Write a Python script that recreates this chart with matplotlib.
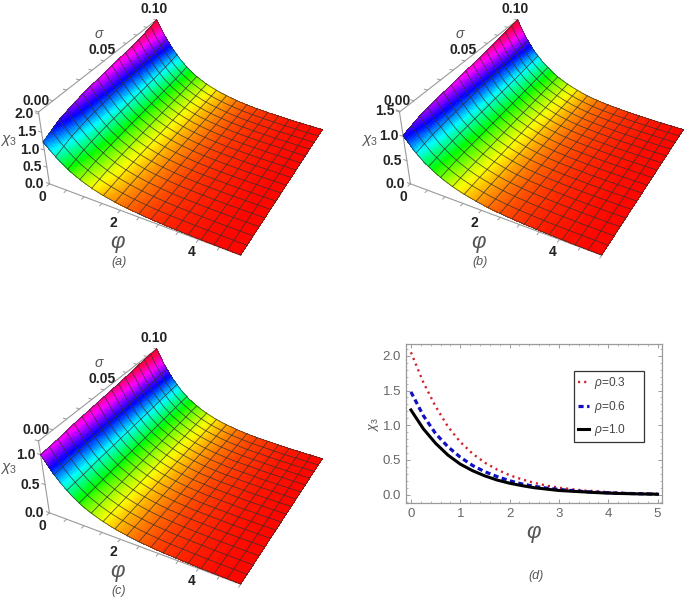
import numpy as np
import matplotlib
matplotlib.use("Agg")
import matplotlib.pyplot as plt
from matplotlib.ticker import MultipleLocator
from matplotlib.transforms import offset_copy

plt.rcParams["font.family"] = ["Liberation Sans", "DejaVu Sans"]
plt.rcParams["mathtext.fontset"] = "custom"
plt.rcParams["mathtext.it"] = "Liberation Sans:italic"
plt.rcParams["mathtext.rm"] = "Liberation Sans"

W, H = 685, 599

# one value every 0.25 in phi
phi = [0, 0.25, 0.5, 0.75, 1, 1.25, 1.5, 1.75, 2, 2.25, 2.5, 2.75, 3, 3.25, 3.5, 3.75, 4, 4.25, 4.5, 4.75, 5]
chi_rho03 = [2.05, 1.62, 1.27, 0.98, 0.76, 0.59, 0.46, 0.36, 0.28, 0.22, 0.17, 0.13, 0.10, 0.08, 0.06, 0.05, 0.035, 0.028, 0.02, 0.016, 0.012]
chi_rho06 = [1.48, 1.14, 0.88, 0.69, 0.54, 0.42, 0.33, 0.26, 0.20, 0.155, 0.12, 0.095, 0.075, 0.06, 0.045, 0.035, 0.028, 0.02, 0.016, 0.012, 0.008]
chi_rho10 = [1.22, 0.95, 0.74, 0.57, 0.44, 0.345, 0.27, 0.21, 0.165, 0.13, 0.10, 0.08, 0.06, 0.05, 0.04, 0.03, 0.022, 0.017, 0.013, 0.009, 0.006]

sigma = [0, 0.0125, 0.025, 0.0375, 0.05, 0.0625, 0.075, 0.0875, 0.1]
share_a = [0.60, 0.71, 0.77, 0.81, 0.84, 0.87, 0.90, 0.94, 1.0]
share_b = [0.69, 0.76, 0.80, 0.83, 0.86, 0.89, 0.92, 0.96, 1.0]
share_c = [0.82, 0.84, 0.87, 0.89, 0.91, 0.93, 0.955, 0.98, 1.0]

ticks_a = [0.0, 0.5, 1.0, 1.5, 2.0]
ticks_b = [0.0, 0.5, 1.0, 1.5]
ticks_c = [0.0, 0.5, 1.0]

GRAY = "#9a9a9a"
TEXT = "#555555"


def px_rect(left, top, width, height):
    return [left / W, 1 - (top + height) / H, width / W, height / H]


def surface_panel(fig, dx, dy, chi, share, zticks, caption):
    ax = fig.add_axes(px_rect(-12.4 + dx, -72.8 + dy, 400, 400), projection="3d", computed_zorder=False)
    ax.set_axis_off()
    ax.set_proj_type("persp", focal_length=0.3206)
    ax.view_init(elev=34.61, azim=-62.09)
    ax.set_box_aspect((1, 1.0314, 0.411), zoom=0.7472)
    top = max(chi)
    ax.set_xlim(0, 5)
    ax.set_ylim(0, 0.1)
    ax.set_zlim(0, top)

    # finer grid only so the colours run smoothly inside each mesh cell
    fine_x = np.linspace(0, 5, 161)
    fine_y = np.linspace(0, 0.1, 65)
    prof = np.interp(fine_x, phi, chi)
    sh = np.interp(fine_y, sigma, share)
    X, Y = np.meshgrid(fine_x, fine_y)
    Z = np.outer(sh, prof)
    cols = plt.cm.hsv(np.clip(Z / top, 0, 0.97))
    ax.plot_surface(X, Y, Z, facecolors=cols, rstride=1, cstride=1, shade=False,
                    linewidth=0, antialiased=False, zorder=2)

    # Mathematica style mesh, 15 lines each way
    for xm in np.linspace(0, 5, 17):
        ax.plot(np.full_like(fine_y, xm), fine_y, sh * np.interp(xm, phi, chi),
                color="#303030", lw=0.6, alpha=0.8, zorder=3)
    for ym in np.linspace(0, 0.1, 17):
        ax.plot(fine_x, np.full_like(fine_x, ym), prof * np.interp(ym, sigma, share),
                color="#303030", lw=0.6, alpha=0.8, zorder=3)

    # box edges that stay visible
    ax.plot([0, 5], [0, 0], [0, 0], color=GRAY, lw=0.8, zorder=1)
    ax.plot([0, 0], [0, 0], [0, top], color=GRAY, lw=0.8, zorder=1)
    ax.plot([0, 0], [0, 0.1], [top, top], color=GRAY, lw=0.8, zorder=1)

    # small ticks along the three edges
    for x in np.arange(0, 5.01, 0.5):
        ax.plot([x, x], [0, -0.0018], [0, 0], color=GRAY, lw=0.7, zorder=1)
    for s in np.arange(0, 0.1001, 0.01):
        ax.plot([0, -0.09], [s, s], [top, top], color=GRAY, lw=0.7, zorder=1)
    for z in zticks:
        ax.plot([0, -0.09], [0, 0], [z, z], color=GRAY, lw=0.7, zorder=1)

    def shifted(x, y):
        return offset_copy(ax.transData, fig=fig, x=x, y=y, units="dots")

    bold = dict(fontsize=10, fontweight="bold", color="#222222")
    for z in zticks:
        ax.text(0, 0, z, f"{z:.1f}", ha="right", va="center", transform=shifted(-5, 0), **bold)
    for x, lab in zip([0, 2, 4], ["0", "2", "4"]):
        ax.text(x, 0, 0, lab, ha="center", va="center", transform=shifted(-7, -13), **bold)
    for s, lab in zip([0, 0.05, 0.1], ["0.00", "0.05", "0.10"]):
        ax.text(0, s, top, lab, ha="center", va="center", transform=shifted(-2, 11), **bold)

    ax.text(2.5, 0, 0, r"$\varphi$", fontsize=16, color=TEXT, ha="center", va="center", transform=shifted(-21, -27))
    ax.text(0, 0.05, top, r"$\sigma$", fontsize=10, color=TEXT, ha="center", va="center", transform=shifted(-5, 27))
    fig.text((0 + dx) / W, 1 - (140 + dy) / H, r"$\chi_3$", fontsize=11, color=TEXT, ha="left", va="center")
    fig.text((119 + dx) / W, 1 - (262 + dy) / H, caption, fontsize=9, style="italic", color=TEXT, ha="center", va="center")


fig = plt.figure(figsize=(W / 100, H / 100), dpi=100)
surface_panel(fig, 0, 0, chi_rho03, share_a, ticks_a, "(a)")
surface_panel(fig, 361, 0, chi_rho06, share_b, ticks_b, "(b)")
surface_panel(fig, 0, 329, chi_rho10, share_c, ticks_c, "(c)")

ax = fig.add_axes(px_rect(406, 344, 256, 159))
ax.plot(phi, chi_rho03, color="#d0202a", ls=(0, (0.9, 1.7)), lw=1.7, label=r"$\rho$=0.3")
ax.plot(phi, chi_rho06, color="#1010c0", ls=(0, (1.6, 1.1)), lw=2.3, label=r"$\rho$=0.6")
ax.plot(phi, chi_rho10, color="black", lw=2.2, label=r"$\rho$=1.0")
ax.set_xlim(-0.1, 5.09)
ax.set_ylim(-0.12, 2.17)
ax.xaxis.set_major_locator(MultipleLocator(1))
ax.xaxis.set_minor_locator(MultipleLocator(0.2))
ax.yaxis.set_major_locator(MultipleLocator(0.5))
ax.yaxis.set_minor_locator(MultipleLocator(0.1))
ax.tick_params(which="both", direction="in", top=True, right=True, color=GRAY, labelcolor="#666666", labelsize=9.5)
ax.tick_params(which="major", length=3, width=0.7)
ax.tick_params(which="minor", length=1.5, width=0.5)
ax.set_yticks([0, 0.5, 1, 1.5, 2])
ax.set_yticklabels(["0.0", "0.5", "1.0", "1.5", "2.0"])
for sp in ax.spines.values():
    sp.set_color(GRAY)
    sp.set_linewidth(0.9)
ax.set_xlabel(r"$\varphi$", fontsize=16, color=TEXT, labelpad=2)
ax.set_ylabel(r"$\chi_3$", fontsize=9, color=TEXT, labelpad=1)
leg = ax.legend(loc="upper left", bbox_to_anchor=(0.656, 0.828, 0.272, 0), mode="expand", fontsize=8.6, fancybox=False,
                framealpha=1, edgecolor="#333333", labelcolor="#444444", handlelength=0.95, handletextpad=0.45,
                labelspacing=0.65, borderpad=0.3, borderaxespad=0)
leg.get_frame().set_linewidth(0.9)
fig.text(536 / W, 1 - 576 / H, "(d)", fontsize=9, style="italic", color=TEXT, ha="center", va="center")

fig.savefig("out.png", dpi=100)
